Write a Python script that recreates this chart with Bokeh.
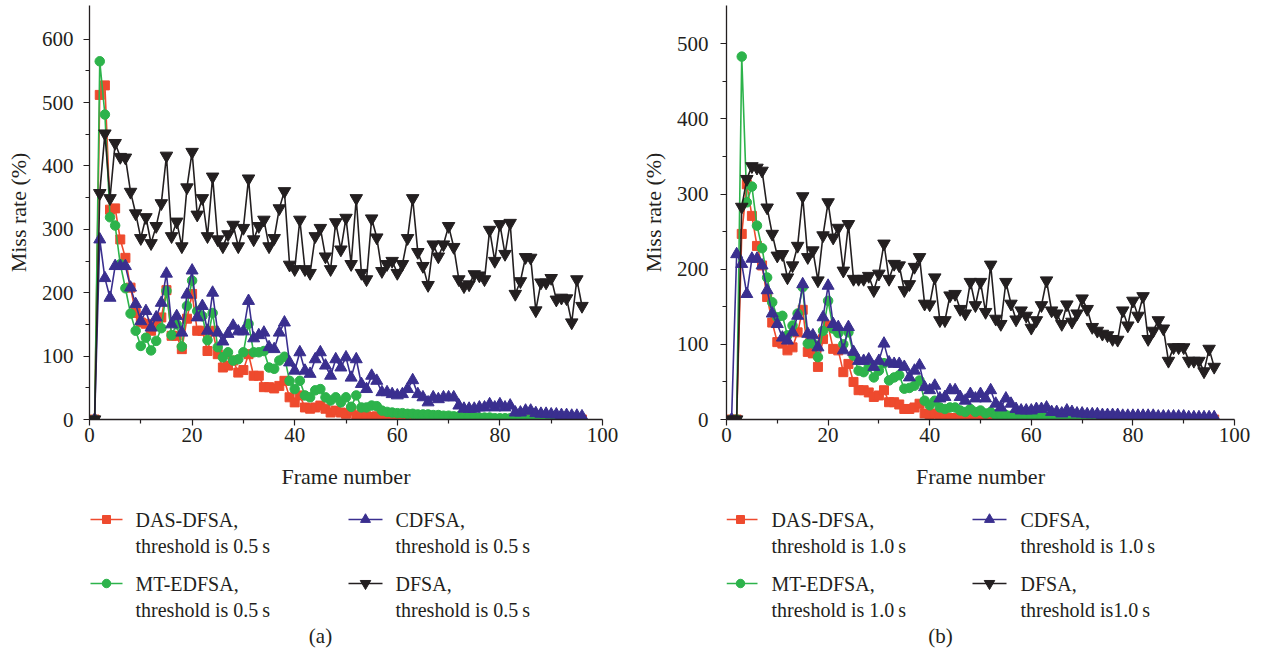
from bokeh.plotting import figure
from bokeh.models import Range1d, FixedTicker
from bokeh.layouts import row, column
from bokeh.core.properties import value
from bokeh.embed import file_html
from bokeh.resources import INLINE

FONT = "Liberation Serif"
TXT = "#231f20"

frames = list(range(1, 97))

# ---------------- panel (a): threshold 0.5 s ----------------
a_das = [0, 512, 527, 331, 333, 284, 255, 208, 168, 153,
         151, 140, 148, 161, 204, 132, 132, 111, 159, 198,
         140, 140, 108, 140, 103, 82, 85, 93, 74, 78,
         103, 69, 69, 51, 51, 49, 53, 61, 35, 27,
         38, 19, 17, 19, 22, 17, 11, 14, 11, 9,
         14, 6, 8, 5, 4, 5, 4, 3, 3, 2,
         2, 2, 1, 1, 1, 1, 1, 1, 0, 0,
         0, 0, 0, 0, 0, 0, 0, 0, 0, 0,
         0, 0, 0, 0, 0, 0, 0, 0, 0, 0,
         0, 0, 0, 0, 0, 0]
a_mt = [0, 565, 481, 319, 306, 245, 207, 167, 140, 116,
        129, 109, 124, 144, 203, 133, 150, 115, 179, 219,
        171, 163, 125, 168, 114, 98, 106, 93, 95, 106,
        151, 106, 106, 108, 82, 80, 93, 99, 61, 48,
        61, 38, 35, 46, 48, 35, 30, 35, 27, 35,
        20, 38, 19, 19, 22, 21, 14, 12, 11, 10,
        10, 9, 9, 8, 8, 8, 7, 7, 6, 6,
        5, 5, 4, 4, 4, 3, 3, 3, 2, 2,
        2, 2, 1, 1, 0, 0, 0, 0, 0, 0,
        0, 0, 0, 0, 0, 0]
a_cd = [0, 284, 223, 192, 242, 242, 242, 208, 182, 155,
        171, 145, 161, 184, 230, 150, 163, 137, 197, 235,
        161, 179, 140, 200, 137, 123, 135, 148, 139, 139,
        187, 128, 133, 137, 114, 111, 137, 153, 90, 77,
        106, 77, 72, 95, 106, 85, 69, 95, 82, 98,
        66, 95, 56, 48, 69, 61, 43, 43, 40, 38,
        40, 48, 62, 40, 35, 27, 35, 32, 35, 35,
        35, 22, 17, 17, 17, 19, 19, 24, 19, 24,
        19, 22, 11, 11, 14, 14, 10, 9, 9, 8,
        8, 7, 7, 6, 6, 5]
a_df = [0, 357, 451, 349, 436, 414, 413, 359, 325, 286,
        319, 278, 305, 341, 416, 289, 312, 273, 366, 422,
        323, 349, 289, 383, 284, 273, 292, 307, 273, 302,
        380, 284, 305, 315, 273, 286, 333, 360, 244, 237,
        315, 237, 231, 289, 302, 257, 237, 311, 268, 318,
        245, 349, 231, 221, 317, 287, 234, 245, 250, 231,
        245, 286, 349, 264, 242, 212, 276, 257, 276, 305,
        272, 221, 210, 213, 229, 227, 221, 299, 250, 308,
        261, 310, 198, 218, 256, 255, 172, 216, 216, 223,
        189, 192, 191, 153, 221, 179]

# ---------------- panel (b): threshold 1.0 s ----------------
b_das = [0, 0, 247, 313, 271, 231, 205, 163, 129, 103,
         101, 92, 96, 116, 146, 90, 88, 70, 107, 125,
         94, 92, 63, 74, 50, 39, 39, 36, 30, 32,
         39, 23, 23, 20, 14, 14, 16, 21, 8, 6,
         8, 3, 3, 2, 2, 1, 1, 1, 1, 0,
         0, 0, 0, 0, 0, 0, 0, 0, 0, 0,
         0, 0, 0, 0, 0, 0, 0, 0, 0, 0,
         0, 0, 0, 0, 0, 0, 0, 0, 0, 0,
         0, 0, 0, 0, 0, 0, 0, 0, 0, 0,
         0, 0, 0, 0, 0, 0]
b_mt = [0, 0, 483, 289, 310, 258, 228, 189, 156, 136,
        138, 112, 125, 141, 176, 101, 101, 83, 118, 158,
        121, 115, 100, 116, 85, 65, 63, 70, 56, 65,
        75, 52, 56, 59, 41, 42, 45, 52, 25, 19,
        25, 16, 14, 16, 16, 12, 10, 14, 10, 12,
        8, 10, 6, 6, 6, 5, 5, 4, 4, 4,
        3, 3, 3, 3, 2, 2, 2, 2, 2, 1,
        1, 1, 1, 1, 1, 0, 0, 0, 0, 0,
        0, 0, 0, 0, 0, 0, 0, 0, 0, 0,
        0, 0, 0, 0, 0, 0]
b_cd = [0, 220, 207, 167, 214, 214, 205, 172, 141, 127,
        109, 105, 116, 138, 180, 114, 112, 96, 136, 178,
        127, 123, 92, 123, 90, 78, 78, 80, 70, 78,
        101, 76, 74, 74, 70, 56, 65, 72, 43, 39,
        45, 28, 30, 39, 39, 30, 25, 34, 28, 34,
        28, 39, 21, 16, 28, 21, 14, 12, 12, 12,
        14, 14, 16, 10, 10, 8, 12, 10, 8, 8,
        7, 7, 7, 6, 6, 6, 6, 5, 5, 5,
        5, 5, 5, 5, 4, 4, 4, 4, 4, 4,
        3, 3, 3, 3, 3, 3]
b_df = [0, 0, 283, 320, 337, 335, 331, 282, 247, 218,
        220, 189, 205, 231, 297, 216, 225, 185, 245, 289,
        242, 255, 198, 260, 187, 187, 187, 191, 172, 194,
        234, 187, 207, 205, 172, 180, 203, 216, 154, 153,
        189, 132, 132, 165, 167, 147, 141, 183, 152, 183,
        143, 206, 134, 127, 183, 154, 133, 145, 138, 122,
        132, 152, 185, 145, 141, 127, 153, 130, 141, 161,
        147, 123, 118, 114, 112, 107, 106, 145, 125, 158,
        138, 164, 107, 118, 132, 121, 78, 96, 96, 96,
        78, 78, 78, 64, 94, 70]

series_names = ["DAS-DFSA,", "MT-EDFSA,", "CDFSA,", "DFSA,"]
a_second = ["threshold is 0.5\u2009s", "threshold is 0.5\u2009s",
            "threshold is 0.5\u2009s", "threshold is 0.5\u2009s"]
b_second = ["threshold is 1.0\u2009s", "threshold is 1.0\u2009s",
            "threshold is 1.0\u2009s", "threshold is1.0\u2009s"]
x_title = "Frame number"
y_title = "Miss rate (%)"

x_major = [0, 20, 40, 60, 80, 100]
x_minor = [10, 30, 50, 70, 90]
a_y_major = [0, 100, 200, 300, 400, 500, 600]
a_y_minor = [50, 150, 250, 350, 450, 550]
b_y_major = [0, 100, 200, 300, 400, 500]
b_y_minor = [50, 150, 250, 350, 450]

COLORS = ["#ee4a2e", "#2db34b", "#3a2f8f", "#231f20"]
MARKERS = ["square", "circle", "triangle", "inverted_triangle"]
SIZES = [9, 9.5, 12, 12.5]
LEG_SIZES = [8, 8.5, 10, 10.5]

PLOT_H = 500
FRAME_TOP = 5
FRAME_BOTTOM = 419
LEG_H = 150


def panel(width, bl, br, ymax, ymaj, ymin, series, lab_standoff):
    p = figure(width=width, height=PLOT_H, x_range=Range1d(0, 100), y_range=Range1d(0, ymax),
               output_backend="svg", toolbar_location=None,
               min_border_left=bl, min_border_right=br, min_border_top=FRAME_TOP,
               min_border_bottom=PLOT_H - FRAME_BOTTOM)
    p.outline_line_color = None
    p.xgrid.visible = False
    p.ygrid.visible = False
    p.background_fill_color = "white"
    p.border_fill_color = "white"

    p.xaxis.ticker = FixedTicker(ticks=x_major, minor_ticks=x_minor)
    p.yaxis.ticker = FixedTicker(ticks=ymaj, minor_ticks=ymin)
    p.xaxis.axis_label = x_title
    p.yaxis.axis_label = y_title
    for ax in (p.xaxis[0], p.yaxis[0]):
        ax.axis_line_color = TXT
        ax.axis_line_width = 1.3
        ax.major_tick_line_color = TXT
        ax.minor_tick_line_color = TXT
        ax.major_tick_line_width = 1.2
        ax.minor_tick_line_width = 1.2
        ax.major_tick_in = 0
        ax.major_tick_out = 6
        ax.minor_tick_in = 0
        ax.minor_tick_out = 4
        ax.major_label_text_font = FONT
        ax.major_label_text_font_size = "21px"
        ax.major_label_text_color = TXT
        ax.axis_label_text_font = FONT
        ax.axis_label_text_font_size = "22px"
        ax.axis_label_text_font_style = "normal"
        ax.axis_label_text_color = TXT
    p.xaxis.major_label_standoff = 2
    p.xaxis.axis_label_standoff = 19
    p.yaxis.major_label_standoff = lab_standoff
    p.yaxis.axis_label_standoff = 8

    for vals, col, mk, sz in zip(series, COLORS, MARKERS, SIZES):
        p.line(frames, vals, line_color=col, line_width=1.6)
        p.scatter(frames, vals, marker=mk, size=sz, fill_color=col, line_color=col)
    return p


def legend_fig(width, bl, br, col_x, second, tag, tag_x):
    # coordinates are pixel positions inside this figure (frame aligned with the plot above)
    q = figure(width=width, height=LEG_H, x_range=Range1d(bl, width - br),
               y_range=Range1d(LEG_H, 0),
               output_backend="svg", toolbar_location=None,
               min_border_left=bl, min_border_right=br, min_border_top=0, min_border_bottom=0,
               x_axis_location=None, y_axis_location=None)
    q.outline_line_color = None
    q.xgrid.visible = False
    q.ygrid.visible = False
    q.background_fill_color = "white"
    q.border_fill_color = "white"
    rows_y = [19, 83, 19, 83]
    cols = [0, 0, 1, 1]
    for i in range(4):
        x0, x1, xm, tx = col_x[cols[i]]
        y = rows_y[i]
        q.line([x0, x1], [y, y], line_color=COLORS[i], line_width=1.6)
        q.scatter([xm], [y], marker=MARKERS[i], size=LEG_SIZES[i],
                  fill_color=COLORS[i], line_color=COLORS[i])
        q.text([tx, tx], [y, y + 26], text=[series_names[i], second[i]],
               text_font=value(FONT), text_font_size=value("20px"), text_color=TXT,
               text_baseline="middle", text_align="left")
    q.text([tag_x], [135], text=[tag], text_font=value(FONT), text_font_size=value("21px"),
           text_color=TXT, text_baseline="middle", text_align="center")
    return q


A_W, A_BL, A_BR = 628, 89, 26
B_W, B_BL, B_BR = 627, 98, 21

pa = panel(A_W, A_BL, A_BR, 653, a_y_major, a_y_minor, [a_das, a_mt, a_cd, a_df], 10)
pb = panel(B_W, B_BL, B_BR, 551, b_y_major, b_y_minor, [b_das, b_mt, b_cd, b_df], 12)
la = legend_fig(A_W, A_BL, A_BR, [(90, 122, 106, 135), (348, 382, 365, 395)],
                a_second, "(a)", 320)
lb = legend_fig(B_W, B_BL, B_BR, [(98, 129, 112, 143), (344, 378, 361, 392)],
                b_second, "(b)", 312)

layout = row(column(pa, la), column(pb, lb))
open("out.html", "w").write(file_html(layout, INLINE))
